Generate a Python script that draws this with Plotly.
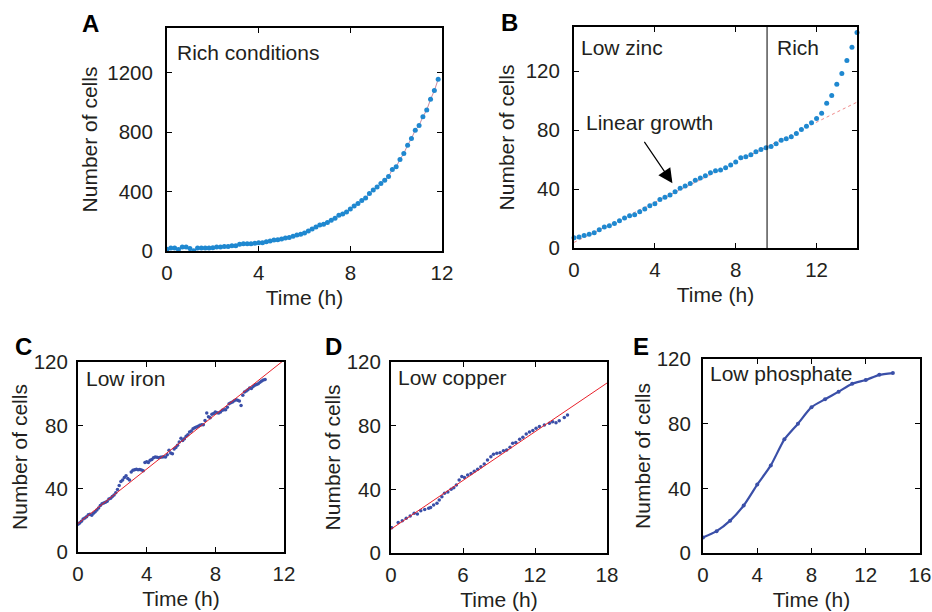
import plotly.graph_objects as go

# ---------------- data ----------------
# Panel A: rich conditions, sampled every 10 min
A_cells = [12, 20, 20, 10, 27, 27, 16, 2, 20, 20, 20, 20, 22, 27, 27, 31, 31, 36, 36, 45,
           49, 49, 49, 52, 56, 56, 63, 67, 74, 76, 81, 88, 90, 99, 108, 112, 121, 135, 148, 162,
           175, 180, 191, 207, 220, 240, 249, 263, 283, 303, 319, 339, 357, 387, 411, 431, 454, 476, 501, 548,
           566, 616, 656, 712, 757, 813, 845, 903, 948, 1020, 1079, 1155]
A_time = [round(i / 6, 4) for i in range(len(A_cells))]

# Panel B: low zinc then rich, sampled every 15 min
B_cells = [7.0, 7.5, 8.4, 9.3, 10.4, 12.4, 14.2, 15.1, 16.7, 18.5, 20.3, 21.9, 22.6, 24.6, 26.4,
           28.7, 30.1, 33.0, 34.4, 35.9, 38.2, 40.5, 42.0, 43.8, 45.9, 47.5, 49.0, 51.1, 52.4, 52.9,
           54.5, 56.3, 58.3, 61.2, 61.9, 63.3, 65.3, 66.9, 68.0, 68.9, 70.7, 73.2, 74.1, 75.5, 77.7,
           80.5, 82.7, 85.0, 87.9, 91.5, 98.3, 103.5, 111.2, 118.4, 127.2, 136.3, 146.2]
B_time = [i * 0.25 for i in range(len(B_cells))]
B_fit = [3.8, 6.8]          # intercept, slope of linear fit
B_switch_time = 9.55        # medium switch (low zinc -> rich)

# Panel C: low iron
C_cells = [17.5, 18.3, 19.5, 20.8, 21.5, 22.3, 23.5, 23.9, 23.2, 24.5, 25.5, 26.5, 27.8, 29.3, 30.5,
           31.0, 31.4, 32.0, 33.5, 34.0, 35.0, 36.0, 37.5, 39.5, 42.0, 44.5, 45.5, 47.0, 48.2, 46.5,
           45.5, 50.5, 51.6, 52.0, 52.2, 52.0, 52.1, 51.8, 51.3, 56.5, 57.0, 56.5, 58.0, 58.5, 59.5,
           60.0, 59.8, 59.6, 59.8, 60.0, 60.2, 60.0, 61.5, 64.2, 62.5, 62.1, 65.0, 66.0, 67.4, 69.5,
           71.8, 70.5, 71.5, 73.1, 74.0, 75.8, 76.5, 77.9, 78.5, 78.9, 79.5, 80.0, 80.3, 80.4, 83.0,
           87.8, 85.5, 84.8, 87.0, 87.4, 88.4, 88.0, 87.8, 88.5, 89.5, 89.8, 89.9, 91.5, 93.7, 94.2,
           94.7, 95.5, 96.2, 95.8, 95.4, 92.6, 99.0, 101.0, 101.7, 102.5, 103.6, 103.2, 104.5, 105.3, 105.8,
           106.3, 107.2, 108.0, 108.6, 109.0]
C_time = [round(i * 0.1, 2) for i in range(len(C_cells))]
C_fit = [18.0, 8.6]

# Panel D: low copper
D_time = [0.06, 0.6, 0.94, 1.27, 1.6, 1.93, 2.2, 2.48, 2.81, 3.14, 3.3, 3.55, 3.83, 4.02, 4.24,
          4.46, 4.74, 5.01, 5.23, 5.45, 5.68, 5.9, 6.12, 6.39, 6.67, 6.94, 7.22, 7.49, 7.77, 8.04,
          8.32, 8.54, 8.82, 9.09, 9.37, 9.64, 9.92, 10.14, 10.4, 10.72, 10.99, 11.27, 11.54, 11.82, 12.09,
          12.37, 12.78, 13.2, 13.47, 13.75, 14.02, 14.44, 14.71]
D_cells = [15.9, 19.1, 20.3, 21.8, 23.2, 24.9, 24.5, 26.6, 27.4, 28.1, 28.6, 30.2, 31.2, 33.3, 35.4,
           37.5, 38.3, 40.0, 41.0, 42.7, 45.9, 48.0, 47.5, 49.0, 50.0, 51.3, 52.6, 54.2, 55.9, 58.4,
           60.5, 62.0, 62.6, 63.0, 64.3, 64.7, 66.4, 68.9, 69.5, 71.4, 72.7, 74.8, 76.0, 76.9, 78.3,
           79.4, 80.4, 81.5, 82.5, 81.9, 83.1, 85.2, 86.7]
D_fit = [15.0, 5.1]

# Panel E: low phosphate
E_time = [0, 1, 2, 3, 4, 5, 6, 7, 8, 9, 10, 11, 12, 13, 14]
E_cells = [9.6, 13.5, 20.0, 29.4, 42.3, 54.2, 70.3, 80.0, 90.2, 95.1, 99.8, 104.7, 107.0, 110.2, 111.3]

# ---------------- styling ----------------
FONT = "Liberation Sans, Arial, Helvetica, sans-serif"
INK = "#231f20"
LIGHT_BLUE = "#1f88d0"
DARK_BLUE = "#3a4fa8"
RED = "#e8202a"
W, H = 932, 612


def px(x, y):
    return x / W, 1 - y / H


def axis(domain, rng, tickvals, title, anchor, standoff, lab_standoff):
    return dict(domain=domain, range=rng, tickvals=tickvals, anchor=anchor,
                showline=True, linecolor="black", linewidth=2, mirror="ticks",
                ticks="inside", ticklen=5, tickwidth=1.2, tickcolor="black",
                showgrid=False, zeroline=False, layer="above traces",
                tickfont=dict(family=FONT, size=20.5, color=INK),
                title=dict(text=title, standoff=standoff, font=dict(family=FONT, size=21, color=INK)),
                ticklabelstandoff=lab_standoff, automargin=False)


panels = {
    # name: (x px range, y px range, xrange, xticks, yrange, yticks, ylabel standoff, ytitle standoff)
    "A": ((167, 442), (28, 251), [0, 12], [0, 4, 8, 12], [0, 1500], [0, 400, 800, 1200], 8, 4),
    "B": ((574, 857), (27, 248), [0, 14], [0, 4, 8, 12], [0, 150], [0, 40, 80, 120], 8, 5),
    "C": ((78, 284), (362, 552), [0, 12], [0, 4, 8, 12], [0, 120], [0, 40, 80, 120], 4, 0),
    "D": ((391, 607), (362, 553), [0, 18], [0, 6, 12, 18], [0, 120], [0, 40, 80, 120], 4, 0),
    "E": ((703, 920), (359, 553), [0, 16], [0, 4, 8, 12, 16], [0, 120], [0, 40, 80, 120], 6, 0),
}

layout = dict(width=W, height=H, margin=dict(l=0, r=0, t=0, b=0),
              paper_bgcolor="white", plot_bgcolor="white", showlegend=False,
              font=dict(family=FONT, color=INK))

for i, (name, (xr, yr, xrng, xt, yrng, yt, ylso, ytso)) in enumerate(panels.items(), start=1):
    sfx = "" if i == 1 else str(i)
    xd = [xr[0] / W, xr[1] / W]
    yd = [1 - yr[1] / H, 1 - yr[0] / H]
    layout["xaxis" + sfx] = axis(xd, xrng, xt, "Time (h)", "y" + sfx, 8, 2)
    layout["yaxis" + sfx] = axis(yd, yrng, yt, "Number of cells", "x" + sfx, ytso, ylso)

fig = go.Figure(layout=layout)

# A
fig.add_trace(go.Scatter(x=A_time, y=A_cells, mode="lines+markers", xaxis="x", yaxis="y",
                         line=dict(color="#c98aa0", width=1),
                         marker=dict(color=LIGHT_BLUE, size=5)))
# B
b_fx = [0, 14]
fig.add_trace(go.Scatter(x=b_fx, y=[B_fit[0] + B_fit[1] * t for t in b_fx], mode="lines",
                         xaxis="x2", yaxis="y2", line=dict(color="#f08a8a", width=1, dash="dot")))
fig.add_trace(go.Scatter(x=B_time, y=B_cells, mode="markers", xaxis="x2", yaxis="y2",
                         marker=dict(color=LIGHT_BLUE, size=5), cliponaxis=False))
# C
c_fx = [0, 12]
fig.add_trace(go.Scatter(x=C_time, y=C_cells, mode="markers", xaxis="x3", yaxis="y3",
                         marker=dict(color=DARK_BLUE, size=3.5)))
fig.add_trace(go.Scatter(x=c_fx, y=[C_fit[0] + C_fit[1] * t for t in c_fx], mode="lines",
                         xaxis="x3", yaxis="y3", line=dict(color=RED, width=1)))
# D
d_fx = [0, 18]
fig.add_trace(go.Scatter(x=D_time, y=D_cells, mode="markers", xaxis="x4", yaxis="y4",
                         marker=dict(color=DARK_BLUE, size=3.5)))
fig.add_trace(go.Scatter(x=d_fx, y=[D_fit[0] + D_fit[1] * t for t in d_fx], mode="lines",
                         xaxis="x4", yaxis="y4", line=dict(color=RED, width=1)))
# E
fig.add_trace(go.Scatter(x=E_time, y=E_cells, mode="lines+markers", xaxis="x5", yaxis="y5",
                         line=dict(color=DARK_BLUE, width=2.2, shape="spline", smoothing=0.6),
                         marker=dict(color=DARK_BLUE, size=4)))

# vertical switch line in B
fig.add_shape(type="line", xref="x2", yref="y2 domain", x0=B_switch_time, x1=B_switch_time,
              y0=0, y1=1, line=dict(color="black", width=1))

annotations = []
# panel letters
for letter, (cx, cy) in {"A": (90, 24), "B": (510, 23), "C": (23, 346), "D": (333, 346), "E": (641, 346)}.items():
    x, y = px(cx, cy)
    annotations.append(dict(x=x, y=y, xref="paper", yref="paper", text="<b>%s</b>" % letter,
                            showarrow=False, xanchor="center", yanchor="middle",
                            font=dict(family=FONT, size=24, color="black")))
# in-panel labels
for text, (lx, ly) in {"Rich conditions": (175, 52), "Low zinc": (579, 48), "Rich": (775, 48),
                       "Low iron": (84, 378), "Low copper": (396, 377), "Low phosphate": (708, 373)}.items():
    x, y = px(lx, ly)
    annotations.append(dict(x=x, y=y, xref="paper", yref="paper", text=text, showarrow=False,
                            xanchor="left", yanchor="middle",
                            font=dict(family=FONT, size=21, color=INK)))
# Linear growth arrow
annotations.append(dict(x=4.87, y=44, xref="x2", yref="y2", ax=3.43, ay=73, axref="x2", ayref="y2",
                        text="", showarrow=True, arrowhead=2, arrowsize=2.4, arrowwidth=1.2,
                        arrowcolor="black", standoff=0))
annotations.append(dict(x=3.72, y=85.5, xref="x2", yref="y2", text="Linear growth", showarrow=False,
                        xanchor="center", yanchor="middle", font=dict(family=FONT, size=21, color=INK)))
fig.update_layout(annotations=annotations)

fig.write_html("out.html", config={"displayModeBar": False},
               post_script="document.body.style.margin='0';document.body.style.overflow='hidden';"
                           "window.dispatchEvent(new Event('resize'));")
